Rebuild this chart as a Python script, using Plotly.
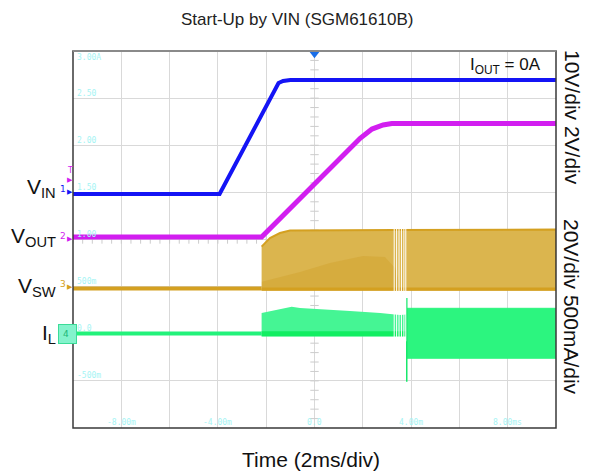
import plotly.graph_objects as go

# ==================================== data (time in ms, y in scope units, 0.5/div)

t_vin = [-10, -3.93, -1.49, -1.30, -1.0, 10]
v_vin = [1.483, 1.483, 2.66, 2.682, 2.692, 2.692]

t_vout = [-10, -2.19, 1.89, 2.38, 2.84, 3.2, 10]
v_vout = [1.027, 1.027, 2.074, 2.172, 2.215, 2.231, 2.231]

t_sw_base = [-10, -2.19]
v_sw_base = [0.480, 0.480]
t_sw_top = [-2.19, -1.845, -1.43, -1.016, 3.3, 10]
v_sw_top = [0.924, 1.016, 1.069, 1.095, 1.100, 1.105]
v_sw_bottom = 0.466
t_sw_dense = [-2.18, -0.60, 0.64, 2.01, 2.92, 3.34, 3.50]
v_sw_dense = [0.552, 0.655, 0.751, 0.825, 0.814, 0.698, 0.55]
t_skip = [3.30, 3.40, 3.50, 3.60, 3.70, 3.78]

t_il_base = [-10, -2.19]
v_il_base = [0.003, 0.003]
t_il_top1 = [-2.19, -1.64, -0.945, -0.60, 0.23, 1.47, 2.72, 3.54, 3.80]
v_il_top1 = [0.220, 0.252, 0.287, 0.273, 0.263, 0.241, 0.220, 0.199, 0.205]
v_il_bottom1 = -0.03
t_il_band2 = [3.82, 10]
v_il_top2 = 0.270
v_il_bottom2 = -0.260
t_il_spike = 3.82
v_il_spike = [0.379, -0.509]

y_tick_vals = [3.0, 2.5, 2.0, 1.5, 1.0, 0.5, 0.0, -0.5]
y_tick_text = ['3.00A', '2.50', '2.00', '1.50', '1.00', '500m', '0.0', '-500m']
x_tick_vals = [-8, -4, 0, 4, 8]
x_tick_text = ['-8.00m', '-4.00m', '0.0', '4.00m', '8.00ms']

# ====================================

C_VIN = '#1414f5'
C_VOUT = '#d21ef0'
C_SW = '#d4a020'
C_SW_FILL = '#dbb54e'
C_IL = '#22f27a'
CYAN = '#a6f4f4'

# plot area in window pixels; page body has an 8px margin
OFF = 8
L, R, T, B = 73, 556, 51, 428


def px(x):
    return (x - L) / (R - L)


def py(y):
    return (B - y) / (B - T)


def note(x, y, text, size, color, family='Liberation Sans', **kw):
    return dict(x=px(x), xref='paper', y=py(y), yref='paper', text=text, showarrow=False,
                xanchor=kw.pop('xanchor', 'center'), yanchor='middle',
                font=dict(family=family, size=size, color=color), **kw)


fig = go.Figure()

# centre graticule minor ticks
fig.add_trace(go.Scatter(
    x=[0] * 41, y=[-1 + 0.1 * i for i in range(41)], mode='markers',
    marker=dict(symbol='line-ew', size=6, line=dict(color='#cccccc', width=1)),
    hoverinfo='skip', showlegend=False))
fig.add_trace(go.Scatter(
    x=[-10 + 0.4 * i for i in range(51)], y=[1.0] * 51, mode='markers',
    marker=dict(symbol='line-ns', size=6, line=dict(color='#cccccc', width=1)),
    hoverinfo='skip', showlegend=False))

# IL
fig.add_trace(go.Scatter(
    x=t_il_top1 + t_il_top1[::-1], y=v_il_top1 + [v_il_bottom1] * len(t_il_top1),
    fill='toself', fillcolor='#45f594', line=dict(width=0), mode='lines',
    hoverinfo='skip', showlegend=False))
fig.add_trace(go.Scatter(
    x=[t_il_top1[0], t_il_top1[-1]], y=[0.0, 0.0], mode='lines',
    line=dict(color='#12ee62', width=5), hoverinfo='skip', showlegend=False))
fig.add_trace(go.Scatter(
    x=t_il_band2 + t_il_band2[::-1], y=[v_il_top2] * 2 + [v_il_bottom2] * 2,
    fill='toself', fillcolor='#2cf57f', line=dict(color='#2cf57f', width=1), mode='lines',
    hoverinfo='skip', showlegend=False))
fig.add_trace(go.Scatter(
    x=[t_il_spike, t_il_spike], y=v_il_spike, mode='lines',
    line=dict(color='#18e86c', width=1.5), hoverinfo='skip', showlegend=False))
fig.add_trace(go.Scatter(
    x=t_il_base, y=v_il_base, mode='lines',
    line=dict(color=C_IL, width=4), hoverinfo='skip', showlegend=False))

# VSW
fig.add_trace(go.Scatter(
    x=t_sw_top + [t_sw_top[-1], t_sw_top[0]], y=v_sw_top + [v_sw_bottom, v_sw_bottom],
    fill='toself', fillcolor=C_SW_FILL, line=dict(color=C_SW, width=2), mode='lines',
    hoverinfo='skip', showlegend=False))
fig.add_trace(go.Scatter(
    x=t_sw_dense + [t_sw_dense[-1], t_sw_dense[0]], y=v_sw_dense + [v_sw_bottom, v_sw_bottom],
    fill='toself', fillcolor='rgba(205,155,35,0.35)', line=dict(width=0), mode='lines',
    hoverinfo='skip', showlegend=False))
fig.add_trace(go.Scatter(
    x=[t_sw_top[0], t_sw_top[-1]], y=[v_sw_bottom + 0.01] * 2, mode='lines',
    line=dict(color=C_SW, width=3), hoverinfo='skip', showlegend=False))
fig.add_trace(go.Scatter(
    x=t_sw_base, y=v_sw_base, mode='lines',
    line=dict(color=C_SW, width=4), hoverinfo='skip', showlegend=False))

# pulse-skipping gaps
gx, gy = [], []
for t in t_skip:
    gx += [t, t, None]
    gy += [-0.08, 1.13, None]
fig.add_trace(go.Scatter(
    x=gx, y=gy, mode='lines', line=dict(color='white', width=1),
    hoverinfo='skip', showlegend=False))

# VOUT, VIN
fig.add_trace(go.Scatter(
    x=t_vout, y=v_vout, mode='lines', line=dict(color=C_VOUT, width=5),
    hoverinfo='skip', showlegend=False))
fig.add_trace(go.Scatter(
    x=t_vin, y=v_vin, mode='lines', line=dict(color=C_VIN, width=4),
    hoverinfo='skip', showlegend=False))

# trigger position marker
fig.add_trace(go.Scatter(
    x=[0], y=[2.975], mode='markers', cliponaxis=False,
    marker=dict(symbol='triangle-down', size=10, color='#1a6ee8'),
    hoverinfo='skip', showlegend=False))

# channel ground markers (small stem + triangle under the channel number)
for col, ylev in [(C_VIN, 1.483), (C_VOUT, 1.027), (C_SW, 0.480), ('#1bb878', 0.003)]:
    fig.add_trace(go.Scatter(
        x=[-10.33, -10.33], y=[ylev, ylev - 0.06], mode='markers', cliponaxis=False,
        marker=dict(symbol=['line-ns', 'triangle-down-open'], size=[5, 5],
                    color=col, line=dict(color=col, width=1)),
        hoverinfo='skip', showlegend=False))

annotations = []
for v, s in zip(y_tick_vals, y_tick_text):
    annotations.append(dict(
        x=0, xref='paper', y=v, yref='y', text=s, showarrow=False,
        xanchor='left', yanchor='middle', xshift=2, yshift=-6 if v == 3.0 else 5,
        font=dict(family='DejaVu Sans Mono', size=8, color=CYAN)))
for v, s in zip(x_tick_vals, x_tick_text):
    annotations.append(dict(
        x=v, xref='x', y=0, yref='paper', text=s, showarrow=False,
        xanchor='center', yanchor='middle', yshift=6,
        font=dict(family='DejaVu Sans Mono', size=8, color=CYAN)))

# channel labels
for name, ypix in [('V<sub>IN</sub>', 188), ('V<sub>OUT</sub>', 237), ('V<sub>SW</sub>', 287), ('I<sub>L</sub>', 334)]:
    annotations.append(note(58, ypix, name, 21, '#111111', xanchor='right'))

# channel numbers and arrows
annotations.append(note(67, 334, '4 ', 9, '#1bb878', 'DejaVu Sans', bgcolor='#84f3cc',
                        bordercolor='#3bdc98', borderwidth=1, borderpad=4))
for num, col, ypix in [('1', C_VIN, 192), ('2', C_VOUT, 239), ('3', C_SW, 287)]:
    annotations.append(note(63, ypix - 3, num, 9, col, 'DejaVu Sans'))
    annotations.append(note(70, ypix, '▶', 7, col, 'DejaVu Sans'))
annotations.append(note(70, 170, 'T', 8, C_VOUT, 'DejaVu Sans'))
annotations.append(note(70, 180, '▶', 7, C_VOUT, 'DejaVu Sans'))

# texts
annotations += [
    note(297, 20, 'Start-Up by VIN (SGM61610B)', 17, '#222222'),
    note(311, 459, 'Time (2ms/div)', 21, '#111111'),
    note(505, 66, 'I<sub>OUT</sub> = 0A', 17, '#111111'),
    note(572, 117, '10V/div 2V/div', 21, '#111111', textangle=90),
    note(572, 307, '20V/div 500mA/div', 21, '#111111', textangle=90),
]

fig.update_layout(
    width=593 - OFF, height=474 - OFF,
    paper_bgcolor='white',
    plot_bgcolor='white',
    margin=dict(l=L - OFF, r=593 - R, t=T - OFF, b=474 - B, pad=0),
    xaxis=dict(range=[-10, 10], dtick=2, tick0=0, showgrid=True, gridcolor='#d9d9d9',
               showticklabels=False, zeroline=False, fixedrange=True),
    yaxis=dict(range=[-1, 3], dtick=0.5, tick0=0, showgrid=True, gridcolor='#d9d9d9',
               showticklabels=False, zeroline=False, fixedrange=True),
    annotations=annotations,
    shapes=[
        dict(type='rect', xref='paper', yref='paper', x0=0, x1=1, y0=0, y1=1,
             line=dict(color='#3a3a3a', width=1.5)),
        dict(type='line', xref='paper', yref='paper', x0=0, x1=1, y0=1, y1=1,
             line=dict(color='#8a8a8a', width=2)),
    ],
)

fig.write_html('out.html')
